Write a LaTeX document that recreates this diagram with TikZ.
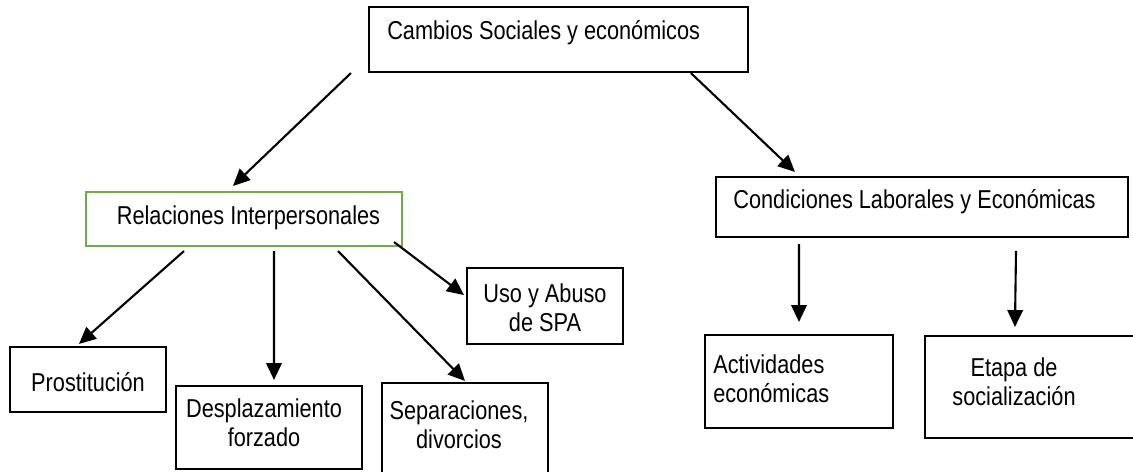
\documentclass[tikz,border=0pt]{standalone}
\usepackage{fontspec}
\setmainfont{Liberation Sans}[FakeStretch=0.84]
\usetikzlibrary{arrows.meta}
\definecolor{boxgreen}{RGB}{112,173,71}
\tikzstyle{box}=[rectangle,draw=black,line width=1.5pt,inner sep=0pt]
\tikzstyle{greenbox}=[box,draw=boxgreen]
\tikzstyle{boxtext}=[font=\fontsize{18.4}{20.6}\selectfont,align=center,inner sep=0pt]
\tikzstyle{edge}=[draw,line width=1.5pt,-{Triangle[length=12pt,width=11pt]}]

\begin{document}
\begin{tikzpicture}
    % page size of the diagram
    \useasboundingbox (0,0) rectangle (28.325,-11.775);
    \clip (0,0) rectangle (28.325,-11.775);
    % First we draw the boxes
    \foreach \pos/\w/\h/\name in {{(13.9625,-0.9875)/9.475/1.625/cambios}, {(23.05,-5.175)/10.3/1.5/condiciones},
            {(2.2,-9.4875)/3.9/1.625/prostitucion}, {(6.725,-10.6875)/4.65/2.075/desplazamiento},
            {(11.625,-10.85)/4.15/2.55/separaciones}, {(13.625,-7.65)/3.9/1.9/uso},
            {(19.975,-9.5375)/4.7/2.325/actividades}, {(25.9375,-9.675)/5.625/2.55/etapa}}
        \node[box,minimum width=\w cm,minimum height=\h cm] (\name) at \pos {};
    \node[greenbox,minimum width=7.9cm,minimum height=1.35cm] (relaciones) at (6.1,-5.475) {};

    % Then the texts
    \node[boxtext,anchor=west] (cambiostxt) at (9.675,-0.825) {Cambios Sociales y económicos};
    \node[boxtext] (relacionestxt) at (6.2125,-5.45) {Relaciones Interpersonales};
    \node[boxtext] (condicionestxt) at (22.8625,-5.05) {Condiciones Laborales y Económicas};
    \node[boxtext] (prostituciontxt) at (2.2,-9.55) {Prostitución};
    \node[boxtext] (desplazamientotxt) at (6.6,-10.5625) {Desplazamiento\\forzado};
    \node[boxtext] (separacionestxt) at (11.475,-10.625) {Separaciones,\\divorcios};
    \node[boxtext] (usotxt) at (13.625,-7.6875) {Uso y Abuso\\de SPA};
    \node[boxtext,anchor=west,align=left] (actividadestxt) at (17.825,-9.475) {Actividades\\económicas};
    \node[boxtext] (etapatxt) at (25.35,-9.55) {Etapa de\\socialización};

    % Arrows
    \draw[edge] ([xshift=-0.425cm]cambios.south west) -- ([xshift=-0.275cm,yshift=0.125cm]relaciones.north);
    \draw[edge] ([xshift=3.31cm]cambios.south) -- ([xshift=2cm,yshift=0.1cm]condiciones.north west);
    \draw[edge] ([xshift=-1.5cm,yshift=-0.1cm]relaciones.south) -- ([xshift=-0.225cm,yshift=0.05cm]prostitucion.north);
    \draw[edge] ([xshift=0.75cm,yshift=-0.1cm]relaciones.south) -- ([xshift=0.125cm,yshift=0.125cm]desplazamiento.north);
    \draw[edge] ([xshift=2.35cm,yshift=-0.1cm]relaciones.south) -- ([yshift=0.025cm]separaciones.north);
    \draw[edge] ([xshift=-0.225cm,yshift=0.125cm]relaciones.south east) -- ([xshift=-0.05cm,yshift=0.275cm]uso.west);
    \draw[edge] ([xshift=-3.075cm,yshift=-0.15cm]condiciones.south) -- ([yshift=0.3cm]actividades.north);
    \draw[edge] ([xshift=2.35cm,yshift=-0.325cm]condiciones.south) -- ([xshift=2.275cm,yshift=0.2cm]etapa.north west);
\end{tikzpicture}
\end{document}
